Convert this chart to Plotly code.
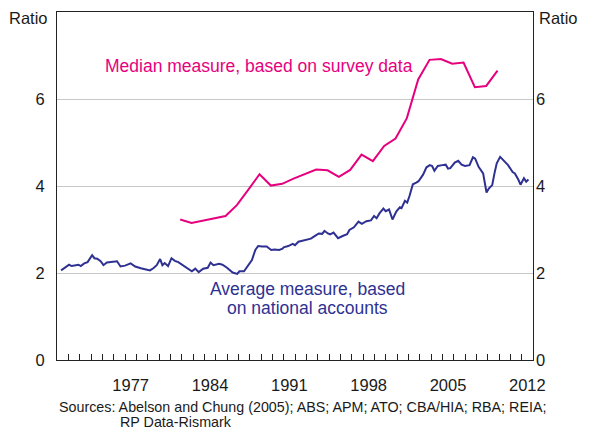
import plotly.graph_objects as go

# ---------------- data ----------------
median_x = [1981.87, 1982.87, 1985.87, 1986.87, 1987.87, 1988.87, 1989.87, 1990.87,
            1991.87, 1992.87, 1993.87, 1994.87, 1995.87, 1996.87, 1997.87, 1998.87,
            1999.87, 2000.87, 2001.87, 2002.87, 2003.87, 2004.87, 2005.87, 2006.87,
            2007.87, 2008.87, 2009.87]
median_y = [3.23, 3.15, 3.31, 3.56, 3.91, 4.27, 4.01, 4.05,
            4.17, 4.28, 4.38, 4.36, 4.21, 4.37, 4.72, 4.57,
            4.92, 5.09, 5.56, 6.45, 6.90, 6.92, 6.81, 6.84,
            6.27, 6.30, 6.65]

average_x = [1971.36, 1971.71, 1972.07, 1972.30, 1972.60, 1972.90, 1973.10, 1973.40, 1973.70,
             1974.10, 1974.30, 1974.55, 1974.85, 1975.10, 1975.40, 1975.80, 1976.30, 1976.60,
             1977.00, 1977.50, 1977.90, 1978.40, 1978.80, 1979.20, 1979.50, 1979.80, 1980.10,
             1980.30, 1980.50, 1980.80, 1981.10, 1981.40, 1981.70, 1982.20, 1982.60, 1982.90,
             1983.20, 1983.50, 1983.90, 1984.30, 1984.55, 1984.80, 1985.30, 1985.60, 1986.00,
             1986.50, 1986.90, 1987.10, 1987.50, 1987.90, 1988.20, 1988.50, 1988.75, 1989.10,
             1989.50, 1989.90, 1990.20, 1990.60, 1990.90, 1991.00, 1991.40, 1991.80, 1992.00,
             1992.30, 1992.70, 1993.10, 1993.40, 1993.80, 1994.10, 1994.40, 1994.60, 1994.90,
             1995.10, 1995.40, 1995.80, 1996.20, 1996.60, 1996.80, 1997.20, 1997.60, 1997.90,
             1998.30, 1998.70, 1998.98, 1999.20, 1999.45, 1999.80, 2000.00, 2000.30, 2000.60,
             2000.95, 2001.25, 2001.40, 2001.70, 2001.90, 2002.10, 2002.40, 2002.70, 2002.90,
             2003.30, 2003.60, 2003.90, 2004.10, 2004.30, 2004.60, 2005.00, 2005.30, 2005.50,
             2005.70, 2006.10, 2006.40, 2006.70, 2007.00, 2007.40, 2007.70, 2007.90, 2008.20,
             2008.60, 2008.90, 2009.10, 2009.40, 2009.60, 2009.80, 2010.10, 2010.50, 2010.80,
             2011.20, 2011.40, 2011.70, 2011.90, 2012.20, 2012.40, 2012.60]
average_y = [2.06, 2.12, 2.19, 2.16, 2.18, 2.19, 2.16, 2.22, 2.25,
             2.41, 2.34, 2.33, 2.27, 2.18, 2.24, 2.25, 2.27, 2.15,
             2.17, 2.22, 2.15, 2.11, 2.09, 2.06, 2.11, 2.18, 2.32,
             2.18, 2.23, 2.16, 2.34, 2.28, 2.25, 2.16, 2.10, 2.04,
             2.10, 2.02, 2.10, 2.12, 2.24, 2.18, 2.21, 2.19, 2.12,
             2.01, 1.98, 2.04, 2.04, 2.20, 2.30, 2.53, 2.62, 2.61,
             2.61, 2.53, 2.54, 2.53, 2.56, 2.59, 2.62, 2.67, 2.64,
             2.72, 2.74, 2.76, 2.79, 2.86, 2.91, 2.90, 2.97, 2.91,
             2.89, 2.93, 2.80, 2.85, 2.89, 2.99, 3.05, 3.18, 3.13,
             3.19, 3.21, 3.31, 3.26, 3.37, 3.48, 3.42, 3.46, 3.23,
             3.42, 3.51, 3.49, 3.66, 3.62, 3.77, 4.04, 4.08, 4.11,
             4.26, 4.43, 4.48, 4.46, 4.35, 4.46, 4.48, 4.49, 4.40,
             4.41, 4.54, 4.58, 4.49, 4.46, 4.48, 4.66, 4.63, 4.44,
             4.29, 3.85, 3.94, 4.02, 4.29, 4.52, 4.67, 4.55, 4.48,
             4.32, 4.29, 4.15, 4.03, 4.18, 4.10, 4.15]

year_label_text = ["1977", "1984", "1991", "1998", "2005", "2012"]
year_label_pos = [1977.5, 1984.5, 1991.5, 1998.5, 2005.5, 2012.5]
year_ticks = list(range(1972, 2013))
y_ticks = [0, 2, 4, 6]

PINK = "#E6007E"
NAVY = "#2E3192"
FONT = "Liberation Sans, Arial, sans-serif"
TXT = "#1a1a1a"

fig = go.Figure()
fig.add_trace(go.Scatter(x=average_x, y=average_y, mode="lines",
                         line=dict(color=NAVY, width=2), showlegend=False))
fig.add_trace(go.Scatter(x=median_x, y=median_y, mode="lines",
                         line=dict(color=PINK, width=2), showlegend=False))
# invisible trace to activate right axis
fig.add_trace(go.Scatter(x=[1971], y=[0], yaxis="y2", mode="markers",
                         marker=dict(opacity=0), showlegend=False, hoverinfo="skip"))

# the page adds an 8px body margin, so the figure is sized to fit inside it
fig.update_layout(
    width=582, height=422,
    margin=dict(l=49, r=57, t=4, b=70),
    paper_bgcolor="white", plot_bgcolor="white",
    font=dict(family=FONT, color=TXT, size=16),
    xaxis=dict(range=[1971, 2013], showgrid=False, zeroline=False, automargin=False,
               showline=True, linecolor="#222", linewidth=1, mirror=True,
               tickmode="array", tickvals=year_label_pos, ticktext=year_label_text,
               ticks="", tickfont=dict(size=16.5, color=TXT), ticklabelstandoff=10,
               minor=dict(tickmode="array", tickvals=year_ticks, ticks="inside",
                          ticklen=6, tickcolor="#222", tickwidth=1, showgrid=False)),
    yaxis=dict(range=[0, 8], tickmode="array", tickvals=y_ticks, automargin=False,
               showgrid=True, gridcolor="#c8c8c8", gridwidth=1, zeroline=False,
               showline=True, linecolor="#222", linewidth=1, mirror=True,
               ticks="", tickfont=dict(size=16.5, color=TXT), ticklabelstandoff=8),
    yaxis2=dict(range=[0, 8], tickmode="array", tickvals=y_ticks, overlaying="y",
                side="right", showgrid=False, zeroline=False, showline=False, automargin=False,
                ticks="", tickfont=dict(size=16.5, color=TXT), ticklabelstandoff=2),
)

ann = []
ann.append(dict(text="Ratio", xref="paper", yref="paper", x=-0.015, y=0.983,
                xanchor="right", yanchor="middle", showarrow=False,
                font=dict(size=16.5, color=TXT)))
ann.append(dict(text="Ratio", xref="paper", yref="paper", x=1.008, y=0.983,
                xanchor="left", yanchor="middle", showarrow=False,
                font=dict(size=16.5, color=TXT)))
ann.append(dict(text="Median measure, based on survey data", x=1975.1, y=6.76,
                xanchor="left", yanchor="middle", showarrow=False,
                font=dict(size=17.5, color=PINK)))
ann.append(dict(text="Average measure, based", x=1993.1, y=1.63,
                xanchor="center", yanchor="middle", showarrow=False,
                font=dict(size=17.5, color=NAVY)))
ann.append(dict(text="on national accounts", x=1993.1, y=1.20,
                xanchor="center", yanchor="middle", showarrow=False,
                font=dict(size=17.5, color=NAVY)))
ann.append(dict(text="Sources: Abelson and Chung (2005); ABS; APM; ATO; CBA/HIA; RBA; REIA;",
                xref="paper", yref="paper", x=0.0, y=-0.135, xanchor="left", yanchor="middle",
                showarrow=False, font=dict(size=14.3, color=TXT)))
ann.append(dict(text="RP Data-Rismark", xref="paper", yref="paper", x=0.128, y=-0.178,
                xanchor="left", yanchor="middle", showarrow=False,
                font=dict(size=14.3, color=TXT)))
fig.update_layout(annotations=ann)

fig.write_html("out.html")
